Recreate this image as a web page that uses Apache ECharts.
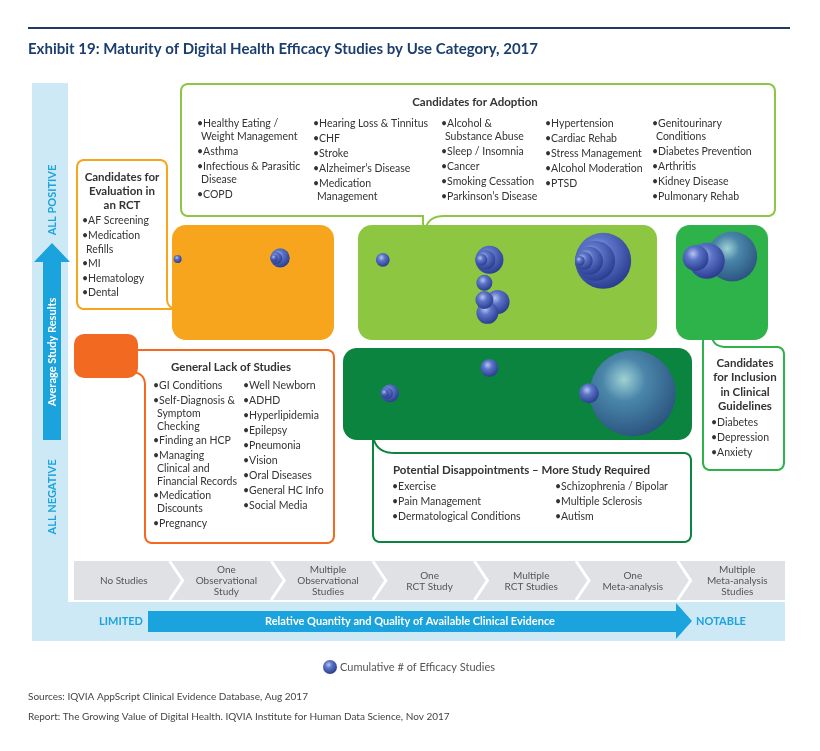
<!DOCTYPE html>
<html><head><meta charset="utf-8">
<script src="https://cdn.jsdelivr.net/npm/echarts@6/dist/echarts.min.js"></script>
<style>html,body{margin:0;padding:0;background:#fff}#c{width:820px;height:751px}</style>
</head><body><div id="c"></div>
<script>
// ---------- DATA ----------
const evidenceLevels = ['No Studies','One\nObservational\nStudy','Multiple\nObservational\nStudies','One\nRCT Study','Multiple\nRCT Studies','One\nMeta-analysis','Multiple\nMeta-analysis\nStudies'];
// bubbles: [evidence level (x), average study result (y), cumulative # of efficacy studies]
const rctBubbles = [[2.03,63.4,23],[1.99,63.4,9],[1.02,63.2,4],[1.97,63.4,3]];
const adoptionBubbles = [[5.21,62.8,196],[5.13,62.8,100],[4.09,63.0,49],[5.07,62.8,49],[4.17,54.2,36],[4.07,51.9,30],[4.05,63.0,25],[4.04,54.6,20],[5.02,62.8,20],[4.04,58.2,16],[3.04,63.0,12],[4.01,63.0,9],[4.98,62.8,6]];
const guidelineBubbles = [[6.48,63.7,156],[6.23,62.8,81],[6.12,63.4,42]];
const disappointBubbles = [[5.50,35.1,462],[5.07,35.1,25],[4.09,40.4,20],[3.11,35.1,20],[3.08,35.1,9],[3.06,35.1,4]];

const rctItems = ['AF Screening','Medication\nRefills','MI','Hematology','Dental'];
const adoptionCol1 = ['Healthy Eating /\nWeight Management','Asthma','Infectious & Parasitic\nDisease','COPD'];
const adoptionCol2 = ['Hearing Loss & Tinnitus','CHF','Stroke','Alzheimer\u2019s Disease','Medication\nManagement'];
const adoptionCol3 = ['Alcohol &\nSubstance Abuse','Sleep / Insomnia','Cancer','Smoking Cessation','Parkinson\u2019s Disease'];
const adoptionCol4 = ['Hypertension','Cardiac Rehab','Stress Management','Alcohol Moderation','PTSD'];
const adoptionCol5 = ['Genitourinary\nConditions','Diabetes Prevention','Arthritis','Kidney Disease','Pulmonary Rehab'];
const guidelineItems = ['Diabetes','Depression','Anxiety'];
const lackCol1 = ['GI Conditions','Self-Diagnosis &\nSymptom\nChecking','Finding an HCP','Managing\nClinical and\nFinancial Records','Medication\nDiscounts','Pregnancy'];
const lackCol2 = ['Well Newborn','ADHD','Hyperlipidemia','Epilepsy','Pneumonia','Vision','Oral Diseases','General HC Info','Social Media'];
const disCol1 = ['Exercise','Pain Management','Dermatological Conditions'];
const disCol2 = ['Schizophrenia / Bipolar','Multiple Sclerosis','Autism'];

// ---------- LAYOUT / STYLE ----------
const FONT = 'Lato, "Noto Sans", "DejaVu Sans", sans-serif';
const TXT = '#333333';
const BLUE = '#1aa3dc';
function T(x,y,text,o){ o=o||{}; return {type:'text',x:x,y:y,rotation:o.rot||0,silent:true,
  style:{text:text,fill:o.color||TXT,fontSize:o.size||10.5,fontWeight:o.weight||'normal',fontFamily:FONT,
  align:o.align||'left',verticalAlign:'middle',lineHeight:o.lh||12}}; }
function bullets(x,y0,items,gi,gl){ gi=gi||15; gl=gl||13; let y=y0; const out=[];
  items.forEach(it=>{ const ls=it.split('\n'); ls.forEach((l,i)=>{ out.push(T(i?x+4:x,y,(i?'':'\u2022')+l)); if(i<ls.length-1) y+=gl; }); y+=gi; });
  return out; }
function pathPts(cmds){ const pts=[]; let cx=0,cy=0;
  cmds.forEach(c=>{ if(c[0]==='M'||c[0]==='L'){ cx=c[1];cy=c[2];pts.push([cx,cy]); }
    else if(c[0]==='Q'){ const x0=cx,y0=cy; for(let t=1;t<=10;t++){ const s=t/10; const a=(1-s)*(1-s),b=2*(1-s)*s,d=s*s;
      pts.push([a*x0+b*c[1]+d*c[3], a*y0+b*c[2]+d*c[4]]); } cx=c[3];cy=c[4]; } });
  return pts; }
function outline(cmds,color){ return {type:'polyline',silent:true,shape:{points:pathPts(cmds)},style:{stroke:color,lineWidth:2,fill:null}}; }
function block(x,y,w,h,r,color){ return {type:'rect',silent:true,shape:{x:x,y:y,width:w,height:h,r:r},style:{fill:color}}; }

const ORANGE='#f7a51c', LGREEN='#8dc641', GREEN='#2db34a', DORANGE='#f26a21', DGREEN='#0a843f';

const g = [];
g.push({type:'line',silent:true,shape:{x1:28,y1:28,x2:790,y2:28},style:{stroke:'#1f3a68',lineWidth:2}});
g.push(T(28,49,'Exhibit 19: Maturity of Digital Health Efficacy Studies by Use Category, 2017',{size:15,weight:'bold',color:'#1b3e6f'}));
// panel
g.push(block(32,83,753,558,0,'#cde9f6'));
g.push(block(68,83,717,519,0,'#ffffff'));
// chevrons
g.push(block(74,561,711,39,0,'#dfe1e4'));
const sepX=[]; for(let i=1;i<7;i++) sepX.push(74+i*101.6-6);
sepX.forEach(s=>g.push({type:'polyline',silent:true,shape:{points:[[s,561],[s+13,580.5],[s,600]]},style:{stroke:'#fff',lineWidth:3,fill:null}}));
evidenceLevels.forEach((lab,i)=>{ const l = i===0?74:sepX[i-1]+6; const r = i===6?785:sepX[i]; const cx = i===0?(l+r)/2+2:(l+r)/2+3;
  g.push(T(cx,581,lab,{align:'center',size:10,color:'#555',lh:11})); });
// arrows
g.push({type:'polygon',silent:true,shape:{points:[[148,611],[676,611],[676,603],[692,621],[676,639],[676,632],[148,632]]},style:{fill:BLUE}});
g.push(T(410,621,'Relative Quantity and Quality of Available Clinical Evidence',{align:'center',color:'#fff',weight:'bold',size:11}));
g.push(T(121,621,'LIMITED',{align:'center',color:BLUE,weight:'bold',size:11}));
g.push(T(721,621,'NOTABLE',{align:'center',color:BLUE,weight:'bold',size:11}));
g.push({type:'polygon',silent:true,shape:{points:[[43,440],[43,262],[34,262],[52,243],[70,262],[61,262],[61,440]]},style:{fill:BLUE}});
g.push(T(52,352,'Average Study Results',{align:'center',color:'#fff',weight:'bold',size:11,rot:Math.PI/2}));
g.push(T(52,200,'ALL POSITIVE',{align:'center',color:BLUE,weight:'bold',size:11,rot:Math.PI/2}));
g.push(T(52,497,'ALL NEGATIVE',{align:'center',color:BLUE,weight:'bold',size:11,rot:Math.PI/2}));
// callout outlines
g.push(outline([['M',178,309],['L',85,309],['Q',77,309,77,301],['L',77,168],['Q',77,160,85,160],['L',159,160],['Q',167,160,167,168],['L',167,298],['Q',167,309,178,309]],ORANGE));
g.push(outline([['M',425,235],['Q',425,216,444,216],['L',767,216],['Q',775,216,775,208],['L',775,92],['Q',775,84,767,84],['L',189,84],['Q',181,84,181,92],['L',181,208],['Q',181,216,189,216],['L',423,216],['L',423,235]],LGREEN));
g.push(outline([['M',703,335],['L',703,462],['Q',703,470,711,470],['L',776,470],['Q',784,470,784,462],['L',784,355],['Q',784,347,776,347],['L',727,347],['Q',712,347,712,335]],GREEN));
g.push(outline([['M',130,350],['L',326,350],['Q',334,350,334,358],['L',334,535],['Q',334,543,326,543],['L',153,543],['Q',145,543,145,535],['L',145,385],['Q',145,372,130,372]],DORANGE));
g.push(outline([['M',373,430],['L',373,534],['Q',373,542,381,542],['L',683,542],['Q',691,542,691,534],['L',691,461],['Q',691,453,683,453],['L',395,453],['Q',373,453,373,432]],DGREEN));
// coloured blocks
g.push(block(172,225,162,115,14,ORANGE));
g.push(block(358,225,299,115,14,LGREEN));
g.push(block(676,225,92,115,14,GREEN));
g.push(block(74,334,64,44,10,DORANGE));
g.push(block(343,348,349,92,14,DGREEN));
// texts in callouts
g.push(T(122,191,'Candidates for\nEvaluation in\nan RCT',{align:'center',weight:'bold',size:11.5,lh:14,color:'#333'}));
g.push(...bullets(82,221,rctItems,14.5,14));
g.push(T(475,102,'Candidates for Adoption',{align:'center',weight:'bold',size:11.5,color:'#333'}));
g.push(...bullets(197,124,adoptionCol1));
g.push(...bullets(313,124,adoptionCol2));
g.push(...bullets(441,124,adoptionCol3));
g.push(...bullets(545,124,adoptionCol4));
g.push(...bullets(652,124,adoptionCol5));
g.push(T(745,385,'Candidates\nfor Inclusion\nin Clinical\nGuidelines',{align:'center',weight:'bold',size:11.5,lh:14.5,color:'#333'}));
g.push(...bullets(711,423,guidelineItems));
g.push(T(231,367,'General Lack of Studies',{align:'center',weight:'bold',size:11.5,color:'#333'}));
g.push(...bullets(153,386,lackCol1,14.5,13));
g.push(...bullets(243,386,lackCol2,15));
g.push(T(393,470,'Potential Disappointments \u2013 More Study Required',{weight:'bold',size:11.5,color:'#333'}));
g.push(...bullets(392,487,disCol1));
g.push(...bullets(555,487,disCol2));
// sources
g.push(T(28,697,'Sources: IQVIA AppScript Clinical Evidence Database, Aug 2017',{size:10,color:'#444'}));
g.push(T(28,717,'Report: The Growing Value of Digital Health. IQVIA Institute for Human Data Science, Nov 2017',{size:10,color:'#444'}));

function sphere(teal){ return new echarts.graphic.RadialGradient(0.4,0.34,0.72,[
  {offset:0,color:teal?'#9fd2d4':'#b6c4f0'},{offset:0.35,color:teal?'#4a86aa':'#5b73c6'},{offset:1,color:teal?'#28507c':'#25378a'}]); }
const NAME='Cumulative # of Efficacy Studies';
function bubbleSeries(data,tealCapable){ return {type:'scatter',name:NAME,data:data,z:5,
  symbolSize:v=>Math.sqrt(v[2])*4, silent:true,
  itemStyle:{opacity:1,color:p=>sphere(tealCapable && p.data[2]>=100)}}; }

const chart = echarts.init(document.getElementById('c'));
chart.setOption({
  animation:false,
  grid:{left:74,right:35,top:83,bottom:190},
  xAxis:{type:'value',min:0,max:7,show:false},
  yAxis:{type:'value',min:0,max:100,show:false},
  legend:{left:318,top:655,itemWidth:14,itemHeight:14,itemGap:10,icon:'circle',selectedMode:false,
    textStyle:{fontSize:11,color:'#555',fontFamily:FONT,padding:[0,0,0,-2]},
    data:[{name:NAME,itemStyle:{color:sphere(false)}}]},
  graphic:g,
  series:[bubbleSeries(rctBubbles,false),bubbleSeries(adoptionBubbles,false),bubbleSeries(guidelineBubbles,true),bubbleSeries(disappointBubbles,true)]
});
</script></body></html>
